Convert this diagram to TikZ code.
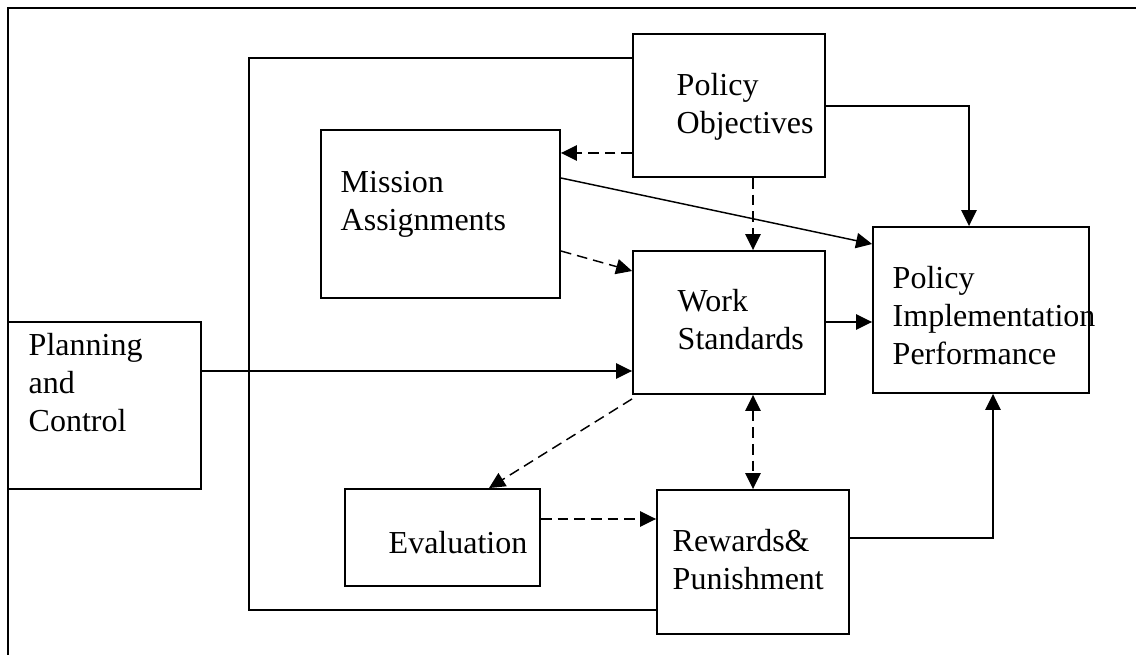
\documentclass[tikz,border=0pt]{standalone}
\usepackage{fontspec}
\setmainfont{Liberation Serif}
\usetikzlibrary{arrows.meta}

\begin{document}
\begin{tikzpicture}[x=0.75pt, y=-0.75pt, line width=1.1pt,
    > = {Triangle[length=12pt, width=11.5pt]},
    box/.style={draw, line width=1.4pt, rectangle, inner sep=0pt},
    txt/.style={anchor=north west, inner sep=0pt, align=left, font=\fontsize{24pt}{28.5pt}\selectfont},
    dashline/.style={dash pattern=on 8pt off 4.5pt}]
    \useasboundingbox (0,0) rectangle (1136,655);
    % frame
    \draw[line width=1.7pt] (8,655) |- (1136,8);
    % boxes
    \node[box, minimum width=144pt, minimum height=107.25pt](po) at (729,105.5) {};
    \node[box, minimum width=179.25pt, minimum height=126pt](ma) at (440.5,214) {};
    \node[box, minimum width=144pt, minimum height=107.25pt](ws) at (729,322.5) {};
    \node[box, minimum width=162pt, minimum height=124.5pt](pip) at (981,310) {};
    \node[box, minimum width=144.75pt, minimum height=125.25pt](pc) at (104.5,405.5) {};
    \node[box, minimum width=146.25pt, minimum height=72.75pt](ev) at (442.5,537.5) {};
    \node[box, minimum width=144pt, minimum height=108pt](rp) at (753,562) {};
    % texts
    \node[txt](po text) at (676,73) {Policy\\Objectives};
    \node[txt](ma text) at (340,171) {Mission\\Assignments};
    \node[txt](ws text) at (677,289) {Work\\Standards};
    \node[txt](pip text) at (892,266) {Policy\\Implementation\\Performance};
    \node[txt](pc text) at (28,333) {Planning\\and\\Control};
    \node[txt](ev text) at (388,531) {Evaluation};
    \node[txt](rp text) at (672,529) {Rewards\&\\Punishment};
    % loop line
    \coordinate (loop) at (249,610);
    \draw (po.west |- 0,58) -| (loop) -- (rp.west |- loop);
    % solid arrows
    \draw[->] (po.east |- 0,106) -| ([xshift=-9pt]pip.north);
    \draw[->] (ma.east |- 0,178) -- (pip.west |- 0,244);
    \draw[->] (pc.east |- 0,371) -- (ws.west |- 0,371);
    \draw[->] (ws.east |- 0,322) -- (pip.west |- 0,322);
    \draw[->] (rp.east |- 0,538) -| (pip.south -| 993,0);
    % dashed arrows
    \draw[dashline, ->] (po.west |- 0,153) -- (ma.east |- 0,153);
    \draw[dashline, ->] (po.south -| rp.north) -- (ws.north -| rp.north);
    \draw[dashline, ->] (ma.east |- 0,251) -- (ws.west |- 0,271);
    \draw[dashline, ->] ([yshift=-3pt]ws.south west) -- (ev.north -| 489,0);
    \draw[dashline, <->] (ws.south -| rp.north) -- (rp.north);
    \draw[dashline, ->] (ev.east |- 0,519) -- (rp.west |- 0,519);
\end{tikzpicture}
\end{document}
